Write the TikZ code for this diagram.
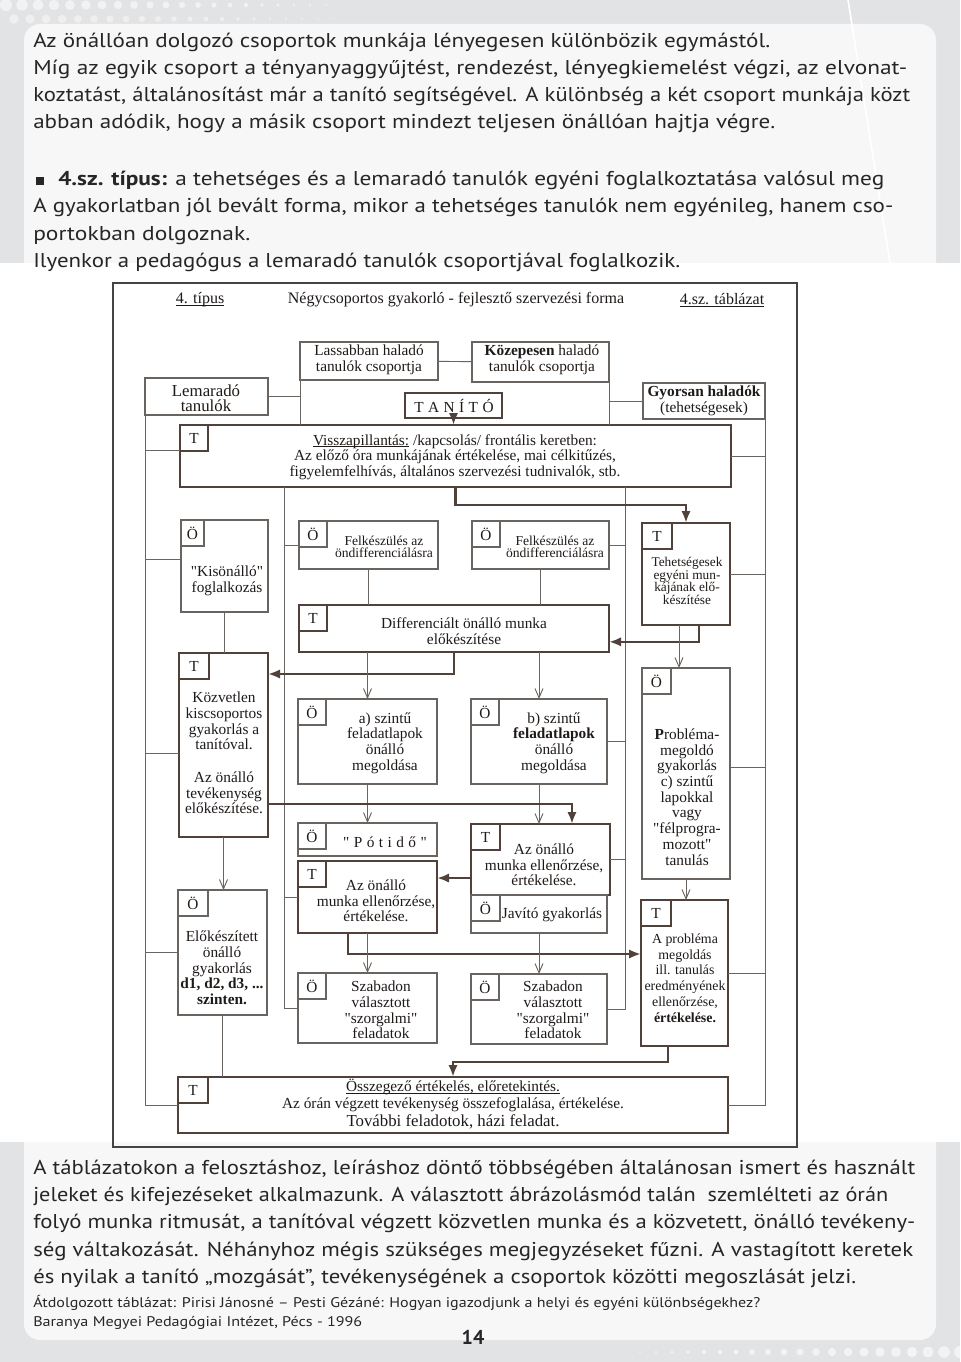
\documentclass[tikz,border=0pt]{standalone}
\usepackage{fontspec}
\usepackage{graphicx}
\usetikzlibrary{arrows.meta,calc}
\newfontfamily\pfont{PT Sans}
\newfontfamily\dfont{Liberation Serif}
\definecolor{ink}{RGB}{30,26,24}
\definecolor{ptext}{RGB}{38,38,40}
\definecolor{thinc}{RGB}{105,100,96}
\definecolor{thkc}{RGB}{80,66,58}
\definecolor{frc}{RGB}{70,68,66}
\definecolor{pagebg}{RGB}{226,227,229}
\definecolor{panel}{RGB}{247,247,248}
\newlength\fitlen
\newsavebox\ulbox
\newcommand\fitto[2]{\settowidth\fitlen{#2}\pgfmathsetmacro\fitr{#1*0.75/\fitlen}\scalebox{\fitr}[1]{#2}}
\newcommand\ul[1]{\sbox\ulbox{#1}\rlap{\rule[-1.3pt]{\wd\ulbox}{0.5pt}}\usebox\ulbox}
\newcommand\fA{\dfont\fontsize{11.5pt}{11.8pt}\selectfont\lineskiplimit=-\maxdimen\relax}
\newcommand\fS{\dfont\fontsize{10.2pt}{9.4pt}\selectfont\lineskiplimit=-\maxdimen\relax}
\newcommand\fT{\dfont\fontsize{10pt}{9.6pt}\selectfont\lineskiplimit=-\maxdimen\relax}
\newcommand\fR{\dfont\fontsize{10.4pt}{11.8pt}\selectfont\lineskiplimit=-\maxdimen\relax}
\newcommand\fL{\dfont\fontsize{12.6pt}{11.6pt}\selectfont\lineskiplimit=-\maxdimen\relax}
\newcommand\fO{\dfont\fontsize{11.5pt}{13pt}\selectfont\lineskiplimit=-\maxdimen\relax}
\newcommand\fH{\dfont\fontsize{12pt}{12pt}\selectfont}
\newcommand\fP{\pfont\fontsize{15pt}{18pt}\selectfont}
\newcommand\fPs{\pfont\fontsize{10.5pt}{12pt}\selectfont}
\newcommand\bx[6]{\node[inner sep=0pt,outer sep=0pt,minimum width={(#4-(#2))*0.75pt},minimum height={(#5-(#3))*0.75pt},#6] (#1) at ({(#2+#4)/2},{(#3+#5)/2}) {};}
\newcommand\cb[5][28]{\node[tx,#4,outer sep=0pt,minimum width={#1*0.75pt},minimum height=19.5pt,anchor=north west] (#2) at (#3.north west) {#5};}
\newcommand\lsp{\hspace{0.29em}}
\begin{document}
\begin{tikzpicture}[x=0.75pt,y=-0.75pt,
 tx/.style={text=ink,inner sep=0pt,align=center,font=\fA},
 txs/.style={tx,font=\fS},
 ptxt/.style={anchor=base west,inner sep=0pt,text=ptext,font=\fP},
 ptxs/.style={anchor=base west,inner sep=0pt,text=ptext,font=\fPs},
 bthin/.style={draw=thinc,line width=0.8pt},
 bmed/.style={draw=thkc,line width=1.4pt},
 bthick/.style={draw=thkc,line width=2pt},
 ln/.style={draw=thinc,line width=0.7pt},
 tharr/.style={draw=thinc,line width=0.7pt,-{Straight Barb[length=7pt,width=6pt]}},
 tkarr/.style={draw=thkc,line width=1.8pt,-{Latex[length=9pt,width=7pt]}}]
\useasboundingbox (0,0) rectangle (960,1362);
% background
\fill[pagebg] (0,0) rectangle (960,1362);
\foreach \i in {0,...,22}{\pgfmathsetmacro\r{6*(1-\i/23)}
  \fill[white,opacity=0.55] (6+\i*16,5) circle (\r);
  \fill[white,opacity=0.45] (14+\i*16,19) circle (0.8*\r);}
\foreach \i in {0,...,20}{\pgfmathsetmacro\r{1+5*\i/20}
  \fill[white,opacity=0.6] (640+\i*16,1352) circle (\r);}
\fill[panel,rounded corners=12pt] (24,24) rectangle (936,1340);
\draw[white,line width=1.2pt] (848,0) -- (890,263);
\fill[white] (0,263) rectangle (960,1142);
% top text
\node[ptxt] (p1) at (33,48) {\fitto{737}{Az önállóan dolgozó csoportok munkája lényegesen különbözik egymástól.}};
\node[ptxt] (p2) at (33,75) {\fitto{874}{Míg az egyik csoport a tényanyaggyűjtést, rendezést, lényegkiemelést végzi, az elvonat-}};
\node[ptxt] (p3) at (33,102) {\fitto{877}{koztatást, általánosítást már a tanító segítségével. A különbség a két csoport munkája közt}};
\node[ptxt] (p4) at (33,129) {\fitto{742}{abban adódik, hogy a másik csoport mindezt teljesen önállóan hajtja végre.}};
\node[fill=ptext,minimum size=5.5pt,inner sep=0pt] (bul) at (40,181) {};
\node[ptxt] (p5) at (58,186) {\fitto{826}{\textbf{4.sz. típus:} a tehetséges és a lemaradó tanulók egyéni foglalkoztatása valósul meg}};
\node[ptxt] (p6) at (33,213) {\fitto{860}{A gyakorlatban jól bevált forma, mikor a tehetséges tanulók nem egyénileg, hanem cso-}};
\node[ptxt] (p7) at (33,241) {\fitto{217}{portokban dolgoznak.}};
\node[ptxt] (p8) at (33,268) {\fitto{647}{Ilyenkor a pedagógus a lemaradó tanulók csoportjával foglalkozik.}};
% bottom text
\node[ptxt] (q1) at (33,1174) {\fitto{882}{A táblázatokon a felosztáshoz, leíráshoz döntő többségében általánosan ismert és használt}};
\node[ptxt] (q2) at (33,1201) {\fitto{855}{jeleket és kifejezéseket alkalmazunk. A választott ábrázolásmód talán\ \ szemlélteti az órán}};
\node[ptxt] (q3) at (33,1228) {\fitto{882}{folyó munka ritmusát, a tanítóval végzett közvetlen munka és a közvetett, önálló tevékeny-}};
\node[ptxt] (q4) at (33,1256) {\fitto{880}{ség váltakozását. Néhányhoz mégis szükséges megjegyzéseket fűzni. A vastagított keretek}};
\node[ptxt] (q5) at (33,1283) {\fitto{823}{és nyilak a tanító „mozgását”, tevékenységének a csoportok közötti megoszlását jelzi.}};
\node[ptxs] (s1) at (33,1307) {\fitto{727}{Átdolgozott táblázat: Pirisi Jánosné – Pesti Gézáné: Hogyan igazodjunk a helyi és egyéni különbségekhez?}};
\node[ptxs] (s2) at (33,1326) {\fitto{329}{Baranya Megyei Pedagógiai Intézet, Pécs - 1996}};
\node[anchor=base,inner sep=0pt,text=ptext,font=\fP\bfseries] (pg) at (473,1344) {14};
% frame and header
\bx{frame}{113}{283}{797}{1147}{draw=frc,line width=1.1pt}
\node[tx,font=\fH] (h1) at (200,300) {\ul{4. típus}};
\node[tx,font=\fH] (h2) at (456,300) {Négycsoportos gyakorló - fejlesztő szervezési forma};
\node[tx,font=\fH] (h3) at (722,300) {\ul{4.sz. táblázat}};
% boxes
\bx{lass}{300}{342}{438}{380}{bthin}
\bx{koz}{472}{342}{609}{382}{bthin}
\bx{lem}{145}{378}{268}{415}{bthin}
\bx{gyo}{643}{383}{765}{419}{bthin}
\bx{tan}{405}{393}{502}{418}{bthick}
\bx{vis}{180}{425}{731}{487}{bthick}
\bx{felka}{299}{521}{438}{569}{bthin}
\bx{felkb}{472}{521}{609}{569}{bthin}
\bx{kis}{181}{520}{268}{612}{bthin}
\bx{teh}{642}{523}{730}{625}{bthick}
\bx{diff}{299}{605}{609}{652}{bmed}
\bx{kozv}{179}{653}{268}{837}{bthick}
\bx{abox}{298}{699}{437}{784}{bthin}
\bx{bbox}{471}{699}{607}{784}{bthin}
\bx{prob}{642}{668}{730}{879}{bthin}
\bx{pot}{298}{823}{437}{856}{bthin}
\bx{ella}{298}{861}{437}{933}{bthick}
\bx{ellb}{471}{824}{610}{895}{bthick}
\bx{jav}{471}{895}{607}{933}{bthin}
\bx{elo}{178}{890}{267}{1015}{bthin}
\bx{aprob}{641}{900}{728}{1046}{bthick}
\bx{szaba}{298}{973}{437}{1043}{bthin}
\bx{szabb}{471}{974}{607}{1044}{bthin}
\bx{ossz}{178}{1077}{728}{1133}{bthick}
% corner boxes
\cb{visT}{vis}{bthick}{T}
\cb[23]{kisO}{kis}{bthin}{Ö}
\cb{felkaO}{felka}{bthin}{Ö}
\cb{felkbO}{felkb}{bthin}{Ö}
\cb[30]{tehT}{teh}{bthick}{T}
\cb{diffT}{diff}{bmed}{T}
\cb[30]{kozvT}{kozv}{bthick}{T}
\cb{aboxO}{abox}{bthin}{Ö}
\cb{bboxO}{bbox}{bthin}{Ö}
\cb[29]{probO}{prob}{bthin}{Ö}
\cb{potO}{pot}{bthin}{Ö}
\cb{ellaT}{ella}{bthick}{T}
\cb[29]{ellbT}{ellb}{bthick}{T}
\cb[29]{javO}{jav}{bthin}{Ö}
\cb[30]{eloO}{elo}{bthin}{Ö}
\cb[30]{aprobT}{aprob}{bthick}{T}
\cb{szabaO}{szaba}{bthin}{Ö}
\cb{szabbO}{szabb}{bthin}{Ö}
\cb[30]{osszT}{ossz}{bthick}{T}
% texts in boxes
\node[tx] (lassX) at (369,360) {Lassabban haladó\\tanulók csoportja};
\node[tx] (kozX) at (542,360) {\textbf{Közepesen} haladó\\tanulók csoportja};
\node[tx,font=\fL] (lemX) at (206,398) {Lemaradó\\tanulók};
\node[tx] (gyoX) at (704,401) {\textbf{Gyorsan haladók}\\(tehetségesek)};
\node[tx] (tanX) at (454,406) {T\lsp A\lsp N\lsp Í\lsp T\lsp Ó};
\node[tx] (visX) at (455,457) {\ul{Visszapillantás:} /kapcsolás/ frontális keretben:\\Az előző óra munkájának értékelése, mai célkitűzés,\\figyelemfelhívás, általános szervezési tudnivalók, stb.};
\node[txs] (felkaX) at (384,547) {Felkészülés az\\öndifferenciálásra};
\node[txs] (felkbX) at (555,547) {Felkészülés az\\öndifferenciálásra};
\node[tx] (kisX) at (227,581) {"Kisönálló"\\foglalkozás};
\node[tx] (diffX) at (464,631) {Differenciált önálló munka\\előkészítése};
\node[tx,font=\fT] (tehX) at (687,581) {Tehetségesek\\egyéni mun-\\kájának elő-\\készítése};
\node[tx] (kozvX) at (224,721) {Közvetlen\\kiscsoportos\\gyakorlás a\\tanítóval.};
\node[tx] (kozvY) at (224,793) {Az önálló\\tevékenység\\előkészítése.};
\node[tx] (aboxX) at (385,743) {a) szintű\\feladatlapok\\önálló\\megoldása};
\node[tx] (bboxX) at (554,743) {b) szintű\\\textbf{feladatlapok}\\önálló\\megoldása};
\node[tx] (probX) at (687,797) {\textbf{P}robléma-\\megoldó\\gyakorlás\\c) szintű\\lapokkal\\vagy\\"félprogra-\\mozott"\\tanulás};
\node[tx] (potX) at (385,842) {"\lsp P\lsp ó\lsp t\lsp i\lsp d\lsp ő\lsp "};
\node[tx] (ellaX) at (376,901) {Az önálló\\munka ellenőrzése,\\értékelése.};
\node[tx] (ellbX) at (544,865) {Az önálló\\munka ellenőrzése,\\értékelése.};
\node[tx] (javX) at (552,915) {Javító gyakorlás};
\node[tx,font=\fR] (aprobX) at (685,978) {A probléma\\megoldás\\ill. tanulás\\eredményének\\ellenőrzése,\\\textbf{értékelése.}};
\node[tx] (szabaX) at (381,1010) {Szabadon\\választott\\"szorgalmi"\\feladatok};
\node[tx] (szabbX) at (553,1010) {Szabadon\\választott\\"szorgalmi"\\feladatok};
\node[tx] (eloX) at (222,968) {Előkészített\\önálló\\gyakorlás\\\textbf{d1, d2, d3, ...}\\\textbf{szinten.}};
\node[tx,font=\fO] (osszX) at (453,1104) {\ul{Összegező értékelés, előretekintés.}\\Az órán végzett tevékenység összefoglalása, értékelése.\\{\fontsize{12.6pt}{13pt}\selectfont További feladotok, házi feladat.}};
% upper connectors
\draw[ln] (lass) -- (koz);
\draw[ln] (lass.south west) -- (lass.south west |- vis.north);
\draw[ln] (koz.south east) -- (koz.south east |- vis.north);
\draw[ln] (lem.east) -- (lem.east -| lass.west);
\draw[ln] (gyo.west) -- (gyo.west -| koz.east);
\draw[tkarr] (tan.south) -- (tan.south |- vis.north);
% column 1
\draw[ln] (lem.south west) |- (ossz.west);
\draw[ln] ([yshift=4.5pt]vis.west) -- ([yshift=4.5pt]vis.west -| lem.west);
\draw[ln] ([yshift=5.25pt]kis.west) -- ([yshift=5.25pt]kis.west -| lem.west);
\draw[ln] ([yshift=-6pt]kozv.west) -- ([yshift=-6pt]kozv.west -| lem.west);
\draw[ln] (elo.west) -- (elo.west -| lem.west);
% column 2
\coordinate (c2) at (284,487);
\draw[ln] (c2) |- (szaba.west);
\draw[ln] (felka.west) -- (felka.west -| c2);
\draw[ln] (ella.west) -- (ella.west -| c2);
% column 3
\coordinate (c3) at (625,487);
\draw[ln] (c3) |- (szabb.east);
\draw[ln] (felkb.east) -- (felkb.east -| c3);
\draw[ln] (bbox.east) -- (bbox.east -| c3);
\draw[ln] (ellb.east) -- (ellb.east -| c3);
% column 4
\draw[ln] (gyo.south east) |- (ossz.east);
\draw[ln] (vis.east) -- (vis.east -| gyo.east);
\draw[ln] (teh.east) -- (teh.east -| gyo.east);
\draw[ln] ([yshift=4.9pt]prob.east) -- ([yshift=4.9pt]prob.east -| gyo.east);
\draw[ln] (aprob.east) -- (aprob.east -| gyo.east);
% flow
\draw[tkarr] (vis.south) -- ++(0,18) -| (teh.north);
\draw[tkarr] ([xshift=9.75pt]teh.south) |- ([yshift=-10pt]diff.east);
\draw[tharr] ([xshift=-5.25pt]teh.south) -- ([xshift=-5.25pt]teh.south |- prob.north);
\draw[ln] (felka.south) -- (felka.south |- diff.north);
\draw[ln] (felkb.south) -- (felkb.south |- diff.north);
\draw[ln] (kis.south) -- (kis.south |- kozv.north);
\draw[tkarr] (diff.south) |- ([yshift=53.25pt]kozv.east);
\draw[tharr] (abox.north |- diff.south) -- (abox.north);
\draw[tharr] (bbox.north |- diff.south) -- (bbox.north);
\draw[tharr] (abox.south) -- (abox.south |- pot.north);
\draw[tharr] (bbox.south) -- (bbox.south |- ellb.north);
\draw[tkarr] ([yshift=-44.25pt]kozv.east) -| ([xshift=23.6pt]ellb.north);
\draw[tkarr] ([yshift=-13.9pt]ellb.west) -- ([yshift=-13.9pt]ellb.west -| ella.east);
\draw[tkarr] ([xshift=-14.6pt]ella.south) |- ([yshift=14.25pt]aprob.west);
\draw[tharr] (ella.south) -- (ella.south |- szaba.north);
\draw[tharr] (jav.south) -- (jav.south |- szabb.north);
\draw[tharr] (kozv.south) -- (kozv.south |- elo.north);
\draw[ln] (elo.south) -- (elo.south |- ossz.north);
\draw[tharr] (prob.south) -- (prob.south |- aprob.north);
\draw[tkarr] ([xshift=-12.4pt]aprob.south) -- ++(0,16) -| (ossz.north);
\end{tikzpicture}
\end{document}
